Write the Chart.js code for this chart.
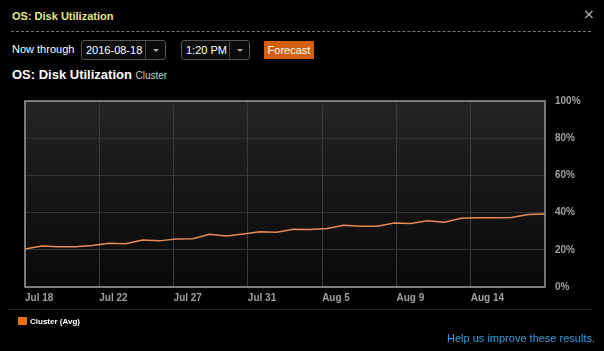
<!DOCTYPE html>
<html>
<head>
<meta charset="utf-8">
<script src="https://cdn.jsdelivr.net/npm/chart.js@4"></script>
<style>
  html, body { margin: 0; padding: 0; background: #000; }
  body { width: 604px; height: 351px; position: relative; overflow: hidden;
         font-family: "Liberation Sans", Arial, sans-serif; color: #fff; }
  .hdr { position: absolute; left: 12px; top: 10px; font-size: 11px; font-weight: bold; color: #e4e58a; }
  .close { position: absolute; left: 583px; top: 6px; font-size: 14px; color: #bbb; font-family: "DejaVu Sans", sans-serif; }
  .dash { position: absolute; left: 11px; top: 31px; width: 580px; border-top: 1px dashed #777; }
  .now { position: absolute; left: 12px; top: 43px; font-size: 11px; }
  .sel { position: absolute; top: 40px; height: 18px; border: 1px solid #555; border-radius: 3px;
         background: #0a0a0a; font-size: 11px; line-height: 18px; box-sizing: content-box; }
  .sel span { position: absolute; left: 4px; }
  .sel i { position: absolute; top: 0; bottom: 0; width: 0; border-left: 1px solid #444; }
  .sel b { position: absolute; top: 8px; border-left: 3px solid transparent; border-right: 3px solid transparent; border-top: 3px solid #aaa; }
  .btn { position: absolute; left: 264px; top: 41px; width: 50px; height: 18px; background: #d2600b;
         font-size: 11px; line-height: 18px; text-align: center; color: #fff; }
  .ttl { position: absolute; left: 12px; top: 67px; font-size: 13px; font-weight: bold; }
  .ttl small { font-size: 10px; font-weight: normal; color: #ccc; }
  #wrap { position: absolute; left: 0; top: 85px; width: 604px; height: 225px; }
  .sep { position: absolute; left: 8px; top: 309px; width: 584px; border-top: 1px solid #262626; }
  .leg { position: absolute; left: 18px; top: 317px; font-size: 8px; font-weight: bold; }
  .leg span { display: inline-block; width: 9px; height: 8px; background: #f07010; vertical-align: -1px; margin-right: 3px; }
  .help { position: absolute; right: 9px; top: 332px; font-size: 11px; color: #2f9fe0; }
</style>
</head>
<body>
<div class="hdr">OS: Disk Utilization</div>
<div class="close">×</div>
<div class="dash"></div>
<div class="now">Now through</div>
<div class="sel" style="left:81px;width:83px"><span>2016-08-18</span><i style="left:63px"></i><b style="left:71px"></b></div>
<div class="sel" style="left:181px;width:67px"><span>1:20 PM</span><i style="left:47px"></i><b style="left:55px"></b></div>
<div class="btn">Forecast</div>
<div class="ttl">OS: Disk Utilization <small>Cluster</small></div>
<div id="wrap"><canvas id="diskChart"></canvas></div>
<div class="sep"></div>
<div class="leg"><span></span>Cluster (Avg)</div>
<div class="help">Help us improve these results.</div>

<script>
// daily cluster average, Jul 18 .. Aug 18 (percent)
const diskValues = [20.4, 22.0, 21.6, 21.6, 22.3, 23.5, 23.3, 25.3, 24.8, 25.8, 26.0, 28.3, 27.4, 28.5, 29.7, 29.4,
  31.0, 30.9, 31.5, 33.2, 32.7, 32.7, 34.4, 34.2, 35.6, 34.8, 37.0, 37.2, 37.2, 37.4, 39.0, 39.3];
const xTickLabels = ['Jul 18', 'Jul 22', 'Jul 27', 'Jul 31', 'Aug 5', 'Aug 9', 'Aug 14'];
const yTicks = [0, 20, 40, 60, 80, 100];

const lastDay = diskValues.length - 1;
const tickStep = lastDay / xTickLabels.length;

// gradient plot background + frame
const plotFrame = {
  id: 'plotFrame',
  beforeDraw(chart) {
    const { ctx, chartArea: a } = chart;
    const g = ctx.createLinearGradient(0, a.top, 0, a.bottom);
    g.addColorStop(0, '#242424');
    g.addColorStop(1, '#080808');
    ctx.save();
    ctx.fillStyle = g;
    ctx.fillRect(a.left, a.top, a.right - a.left, a.bottom - a.top);
    ctx.restore();
  },
  afterDraw(chart) {
    const { ctx, chartArea: a } = chart;
    ctx.save();
    ctx.strokeStyle = '#9a9a9a';
    ctx.lineWidth = 1.5;
    ctx.strokeRect(a.left, a.top, a.right - a.left, a.bottom - a.top);
    ctx.restore();
  }
};

const ctx = document.getElementById('diskChart').getContext('2d');
new Chart(ctx, {
  type: 'line',
  data: {
    datasets: [{
      label: 'Cluster (Avg)',
      data: diskValues.map((v, i) => ({ x: i, y: v })),
      borderColor: '#e88a58',
      borderWidth: 1.5,
      pointRadius: 0,
      tension: 0,
      fill: false
    }]
  },
  options: {
    responsive: true,
    maintainAspectRatio: false,
    animation: false,
    layout: { padding: { left: 25, top: 12, right: 0, bottom: 0 } },
    plugins: { legend: { display: false }, tooltip: { enabled: false } },
    scales: {
      x: {
        type: 'linear',
        min: 0,
        max: lastDay,
        afterBuildTicks: (axis) => {
          axis.ticks = xTickLabels.map((l, i) => ({ value: i * tickStep }));
        },
        afterFit: (axis) => { axis.height = 23; },
        grid: { color: '#3a3a3a', drawTicks: false },
        border: { display: false },
        ticks: {
          align: 'start',
          padding: 5,
          color: '#a0a0a0',
          font: { family: 'Liberation Sans', size: 10, weight: 'bold' },
          callback: (v, i) => xTickLabels[i]
        }
      },
      y: {
        position: 'right',
        min: 0,
        max: 100,
        afterBuildTicks: (axis) => {
          axis.ticks = yTicks.map(v => ({ value: v }));
        },
        afterFit: (axis) => { axis.width = 59; },
        grid: { color: '#333333', drawTicks: false },
        border: { display: false },
        ticks: {
          padding: 10,
          color: '#a0a0a0',
          font: { family: 'Liberation Sans', size: 10, weight: 'bold' },
          callback: v => v + '%'
        }
      }
    }
  },
  plugins: [plotFrame]
});
</script>
</body>
</html>
